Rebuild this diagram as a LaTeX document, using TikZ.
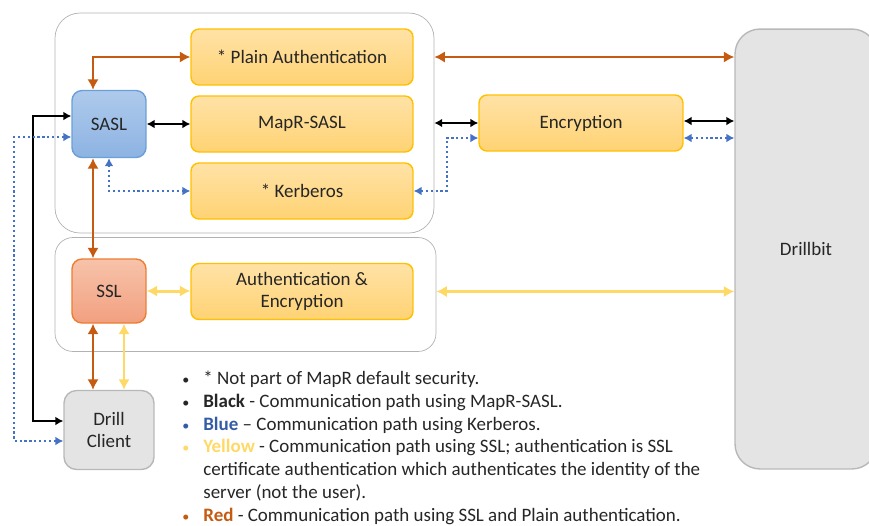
\documentclass[tikz,border=0pt]{standalone}
\usepackage{fontspec}
\setmainfont{Carlito}
\usetikzlibrary{arrows.meta}

\definecolor{boxline}{HTML}{FFC000}
\definecolor{boxtop}{HTML}{FFE2A6}
\definecolor{boxbot}{HTML}{FFD374}
\definecolor{sasltop}{HTML}{AECAEC}
\definecolor{saslbot}{HTML}{8DB3E2}
\definecolor{saslline}{HTML}{6A9FD8}
\definecolor{ssltop}{HTML}{F7C3AA}
\definecolor{sslbot}{HTML}{F2A080}
\definecolor{sslline}{HTML}{ED7D31}
\definecolor{greyfill}{HTML}{E4E4E4}
\definecolor{greyline}{HTML}{B8B8B8}
\definecolor{redpath}{HTML}{C55A11}
\definecolor{bluepath}{HTML}{4472C4}
\definecolor{yelpath}{HTML}{FFD966}
\definecolor{legblue}{HTML}{345CA6}
\definecolor{txt}{HTML}{262626}

\newcommand{\legbul}{{\fontsize{8}{13}\selectfont •}}

\begin{document}
\begin{tikzpicture}[
        x=0.02cm, y=-0.02cm,
        font=\fontsize{10.8}{13}\selectfont, text=txt,
        group/.style={rectangle, draw=black!30, thin, rounded corners=0.5cm},
        mech/.style={rectangle, draw=boxline, thick, top color=boxtop, bottom color=boxbot, rounded corners=0.16cm, minimum width=4.44cm, minimum height=1.12cm, align=center, inner sep=0},
        sasl/.style={rectangle, draw=saslline, thick, top color=sasltop, bottom color=saslbot, rounded corners=0.2cm, minimum width=1.48cm, minimum height=1.34cm, inner sep=0},
        ssl/.style={rectangle, draw=sslline, thick, top color=ssltop, bottom color=sslbot, rounded corners=0.2cm, minimum width=1.48cm, minimum height=1.28cm, inner sep=0},
        endpoint/.style={rectangle, draw=greyline, thick, fill=greyfill, rounded corners=0.25cm, align=center, inner sep=0},
        redarrow/.style={{Latex[length=6pt,width=6.5pt]}-{Latex[length=6pt,width=6.5pt]}, line width=1.7pt, redpath},
        blkarrow/.style={{Latex[length=4.5pt,width=5pt]}-{Latex[length=4.5pt,width=5pt]}, line width=1.1pt, black},
        bluarrow/.style={{Latex[length=4.5pt,width=5pt]}-{Latex[length=4.5pt,width=5pt]}, line width=1.1pt, bluepath, dash pattern=on 1.2pt off 1.6pt},
        yelarrow/.style={{Latex[length=6pt,width=6.5pt]}-{Latex[length=6pt,width=6.5pt]}, line width=1.7pt, yelpath}
    ]
        \useasboundingbox (0,0) rectangle (869,525);
        \clip (0,0) rectangle (869,525);

        % Groups
        \node[group, minimum width=7.58cm, minimum height=4.4cm] (authgrp) at (244.5,123) {};
        \node[group, minimum width=7.62cm, minimum height=2.28cm, rounded corners=0.36cm] (sslgrp) at (245.5,294.5) {};

        % Mechanisms
        \node[mech] (plain) at (302,57) {* Plain Authentication};
        \node[mech] (maprsasl) at (302,124) {MapR-SASL};
        \node[mech] (kerberos) at (302,191) {* Kerberos};
        \node[mech, minimum width=4.08cm] (encrypt) at (581,123) {Encryption};
        \node[mech] (authenc) at (302,291.5) {Authentication \&\\Encryption};
        \node[sasl] (sasl) at (109,124) {SASL};
        \node[ssl] (ssl) at (109,291) {SSL};

        % End points
        \node[endpoint, minimum width=1.8cm, minimum height=1.58cm] (client) at (109,430) {Drill\\Client};
        \node[endpoint, minimum width=2.84cm, minimum height=8.8cm, rounded corners=0.5cm] (drillbit) at (806,249) {Drillbit};

        % Red paths
        \draw[redarrow] ([xshift=-0.32cm]sasl.north) |- (plain.west);
        \draw[redarrow] (plain.east -| authgrp.east) -- (plain.east -| drillbit.west);
        \draw[redarrow] ([xshift=-0.32cm]sasl.south) -- ([xshift=-0.32cm]ssl.north);
        \draw[redarrow] ([xshift=-0.32cm]ssl.south) -- ([xshift=-0.32cm]ssl.south |- client.north);

        % Black paths
        \draw[blkarrow] (sasl.east) -- (sasl.east -| maprsasl.west);
        \draw[blkarrow] ([yshift=0.16cm]sasl.west) -- ++(-0.76cm,0) |- ([yshift=0.18cm]client.west);
        \draw[blkarrow] (encrypt.west -| authgrp.east) -- (encrypt.west);
        \draw[blkarrow] ([yshift=0.04cm]encrypt.east) -- ([yshift=0.04cm]encrypt.east -| drillbit.west);

        % Blue paths
        \draw[bluarrow] ([yshift=-0.26cm]sasl.west) -- ++(-1.14cm,0) |- ([yshift=-0.22cm]client.west);
        \draw[bluarrow] (sasl.south) |- (kerberos.west);
        \draw[bluarrow] (kerberos.east) -- ++(0.66cm,0) |- ([yshift=-0.3cm]encrypt.west);
        \draw[bluarrow] ([yshift=-0.3cm]encrypt.east) -- ([yshift=-0.3cm]encrypt.east -| drillbit.west);

        % Yellow paths
        \draw[yelarrow] (ssl.east) -- (ssl.east -| authenc.west);
        \draw[yelarrow] (authenc.east -| sslgrp.east) -- (authenc.east -| drillbit.west);
        \draw[yelarrow] ([xshift=0.3cm]ssl.south) -- ([xshift=0.3cm]ssl.south |- client.north);

        % Legend
        \node[anchor=north west, inner sep=0, align=left] (legend) at (182,368) {%
            \begin{tabular}{@{}p{0.42cm}@{}l@{}}
            \legbul & * Not part of MapR default security.\\
            \legbul & \textbf{Black} - Communication path using MapR-SASL.\\
            \textcolor{legblue}{\legbul} & \textcolor{legblue}{\textbf{Blue}} – Communication path using Kerberos.\\
            \textcolor{yelpath}{\legbul} & \textcolor{yelpath}{\textbf{Yellow}} - Communication path using SSL; authentication is SSL\\
              & certificate authentication which authenticates the identity of the\\
              & server (not the user).\\
            \textcolor{redpath}{\legbul} & \textcolor{redpath}{\textbf{Red}} - Communication path using SSL and Plain authentication.
            \end{tabular}};

    \end{tikzpicture}
\end{document}
